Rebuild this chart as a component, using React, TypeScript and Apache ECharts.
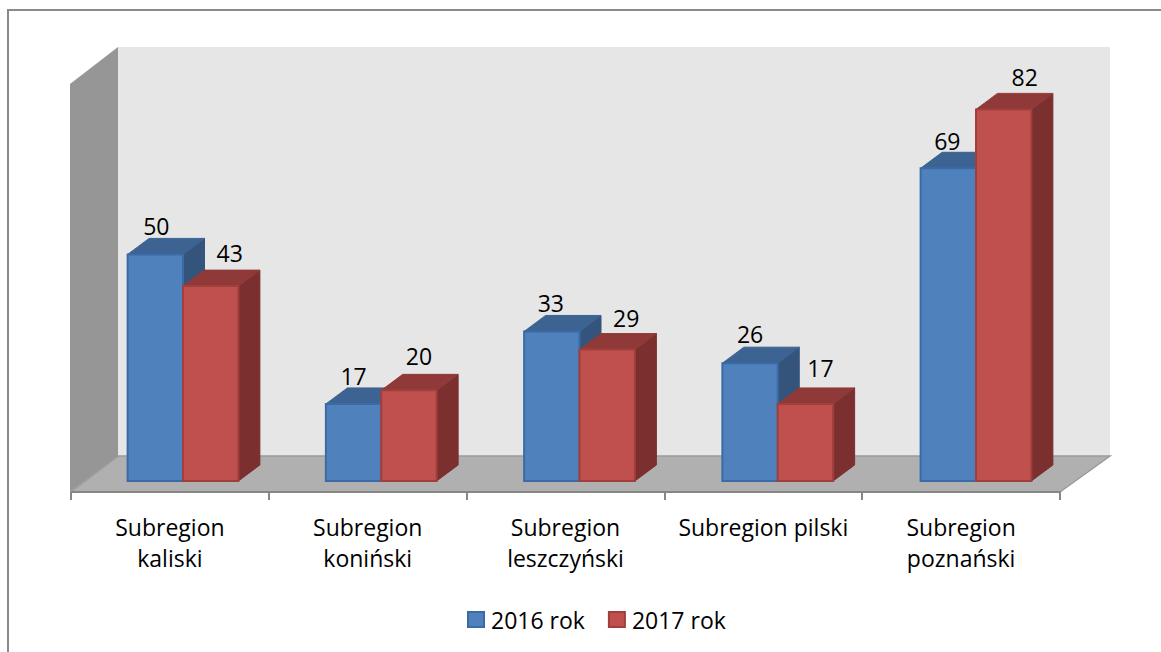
import React, { useEffect, useRef } from "react";
import * as echarts from "echarts";

const categories = [
  "Subregion\nkaliski",
  "Subregion\nkoniński",
  "Subregion\nleszczyński",
  "Subregion pilski",
  "Subregion\npoznański",
];
const values2016 = [50, 17, 33, 26, 69];
const values2017 = [43, 20, 29, 17, 82];
const seriesNames = ["2016 rok", "2017 rok"];

// label nudges (layout only), px relative to the top-centre of the bar's front face
const nudge2016 = [[1, -28], [0, -28], [-1, -28], [0, -29], [-1, -27]];
const nudge2017 = [[19, -33], [10, -34], [19, -32], [15, -36], [21, -32]];

const FONT = "'Open Sans', 'Noto Sans', sans-serif";
const FS = 23;
const DX = 21.5;
const DY = 16;

const palette = [
  { front: "#4f81bd", border: "#3a6ba5", side: "#34547c", top: "#3c6391" },
  { front: "#c0504d", border: "#a03f3c", side: "#7b2f2e", top: "#8f3a38" },
];

function makeRender(idx: number, nudges: number[][]) {
  return (params: any, api: any) => {
    const i = api.value(0);
    const v = api.value(1);
    const band = api.size([1, 0])[0];
    const w = band * 0.28;
    const [cx, y0] = api.coord([i, 0]);
    const [, y1] = api.coord([i, v]);
    const left = cx + 13.1 + i * 0.45 - w + idx * w;
    const right = left + w;
    const c = palette[idx];
    const [nx, ny] = nudges[i];
    return {
      type: "group",
      children: [
        {
          type: "polygon",
          shape: { points: [[right, y1], [right + DX, y1 - DY], [right + DX, y0 - DY], [right, y0]] },
          style: { fill: c.side, stroke: c.side, lineWidth: 1 },
        },
        {
          type: "polygon",
          shape: { points: [[left, y1], [left + DX, y1 - DY], [right + DX, y1 - DY], [right, y1]] },
          style: { fill: c.top, stroke: c.top, lineWidth: 1 },
        },
        {
          type: "rect",
          shape: { x: left, y: y1, width: w, height: y0 - y1 },
          style: { fill: c.front, stroke: c.border, lineWidth: 2 },
        },
        {
          type: "text",
          style: {
            text: String(v),
            x: (left + right) / 2 + nx,
            y: y1 + ny,
            fill: "#000",
            font: `${FS}px ${FONT}`,
            align: "center",
            verticalAlign: "middle",
          },
        },
      ],
    };
  };
}

export default function App() {
  const ref = useRef<HTMLDivElement>(null);
  useEffect(() => {
    const chart = echarts.init(ref.current!, undefined, { renderer: "svg" });
    const wall = -10;
    chart.setOption({
      animation: false,
      backgroundColor: "#ffffff",
      grid: { left: 71, width: 989, top: 84, bottom: 160 },
      xAxis: {
        type: "category",
        data: categories,
        axisLine: { onZero: false, lineStyle: { color: "#868686", width: 2 } },
        axisTick: { show: true, length: 8, lineStyle: { color: "#868686", width: 2 } },
        axisLabel: {
          interval: 0,
          color: "#000",
          fontFamily: FONT,
          fontSize: FS,
          lineHeight: 31,
          margin: 19,
          verticalAlign: "top",
        },
        splitLine: { show: false },
      },
      yAxis: { type: "value", min: -2.43, max: 87.6, show: false, splitLine: { show: false } },
      legend: {
        left: 462,
        top: 603,
        itemWidth: 16,
        itemHeight: 15,
        itemGap: 23,
        textStyle: { color: "#000", fontFamily: FONT, fontSize: FS, padding: [0, 0, 0, 2] },
        data: seriesNames.map((name, k) => ({
          name,
          icon: "rect",
          itemStyle: { color: palette[k].front, borderColor: palette[k].border, borderWidth: 2 },
        })),
      },
      graphic: [
        {
          type: "polyline",
          z: wall,
          shape: { points: [[8, 652], [8, 10], [1161, 10]] },
          style: { fill: "none", stroke: "#8a8a8a", lineWidth: 2 },
        },
        {
          type: "polygon",
          z: wall,
          shape: { points: [[118, 47], [1110, 47], [1110, 456], [118, 456]] },
          style: { fill: "#e6e6e6" },
        },
        {
          type: "polygon",
          z: wall,
          shape: { points: [[70, 84], [118, 47], [118, 456], [70, 492]] },
          style: { fill: "#969696" },
        },
        {
          type: "polygon",
          z: wall,
          shape: { points: [[71, 492], [118, 456], [1110, 456], [1060, 492]] },
          style: { fill: "#b0b0b0" },
        },
        {
          type: "polyline",
          z: wall,
          shape: { points: [[1060, 492], [1110, 456], [118, 456], [71, 492]] },
          style: { fill: "none", stroke: "#9a9a9a", lineWidth: 1.5 },
        },
      ],
      series: [
        {
          type: "custom",
          name: seriesNames[0],
          coordinateSystem: "cartesian2d",
          renderItem: makeRender(0, nudge2016),
          encode: { x: 0, y: 1 },
          itemStyle: { color: palette[0].front },
          data: values2016.map((v, i) => [i, v]),
        },
        {
          type: "custom",
          name: seriesNames[1],
          coordinateSystem: "cartesian2d",
          renderItem: makeRender(1, nudge2017),
          encode: { x: 0, y: 1 },
          itemStyle: { color: palette[1].front },
          data: values2017.map((v, i) => [i, v]),
        },
      ],
    });
    return () => chart.dispose();
  }, []);
  return <div ref={ref} style={{ position: "fixed", left: 0, top: 0, width: 1161, height: 652 }} />;
}
